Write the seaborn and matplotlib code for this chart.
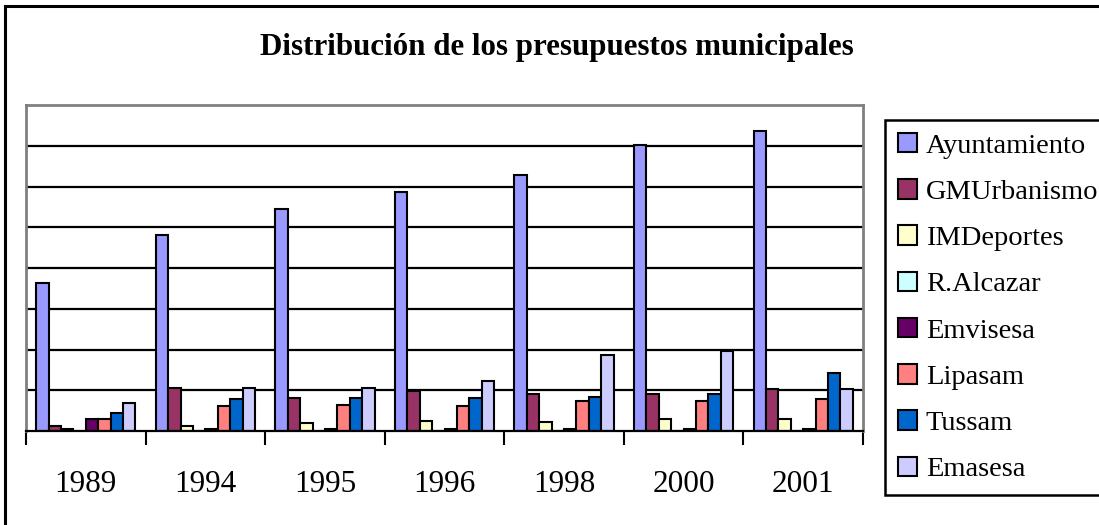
import matplotlib
matplotlib.use("Agg")
import matplotlib.pyplot as plt
import seaborn as sns
import pandas as pd
from matplotlib.patches import Rectangle, Patch

years = ["1989", "1994", "1995", "1996", "1998", "2000", "2001"]
series = ["Ayuntamiento", "GMUrbanismo", "IMDeportes", "R.Alcazar",
          "Emvisesa", "Lipasam", "Tussam", "Emasesa"]
ayuntamiento = [3.62, 4.80, 5.44, 5.87, 6.27, 7.02, 7.36]
gmurbanismo = [0.12, 1.06, 0.82, 0.98, 0.92, 0.92, 1.03]
imdeportes = [0.04, 0.13, 0.19, 0.25, 0.23, 0.29, 0.29]
ralcazar = [0.0, 0.0, 0.0, 0.0, 0.0, 0.0, 0.0]
emvisesa = [0.29, 0.04, 0.04, 0.04, 0.04, 0.04, 0.04]
lipasam = [0.29, 0.62, 0.63, 0.62, 0.74, 0.74, 0.79]
tussam = [0.43, 0.78, 0.82, 0.82, 0.83, 0.92, 1.42]
emasesa = [0.68, 1.06, 1.06, 1.23, 1.86, 1.96, 1.03]
colors = ["#9999FF", "#993366", "#FFFFCC", "#CCFFFF",
          "#660066", "#FF8080", "#0066CC", "#CCCCFF"]

values = [ayuntamiento, gmurbanismo, imdeportes, ralcazar,
          emvisesa, lipasam, tussam, emasesa]
rows = []
for s, vals in zip(series, values):
    for y, v in zip(years, vals):
        rows.append({"year": y, "serie": s, "value": v})
df = pd.DataFrame(rows)

sns.set_style("white")
plt.rcParams["font.family"] = ["Liberation Serif", "DejaVu Serif"]
plt.rcParams["text.color"] = "black"
plt.rcParams["xtick.color"] = "black"
plt.rcParams["xtick.labelcolor"] = "black"

W, H = 1099, 525
fig = plt.figure(figsize=(W / 100, H / 100), dpi=100)
ax = fig.add_axes([26 / W, 94 / H, 837 / W, 326 / H])

sns.barplot(data=df, x="year", y="value", hue="serie", order=years,
            hue_order=series, palette=colors, width=0.83, gap=0,
            edgecolor="black", linewidth=1.5, errorbar=None, ax=ax,
            legend=False, saturation=1)

ax.set_ylim(0, 8)
ax.set_xlim(-0.5, len(years) - 0.5)
ax.set_yticks(range(1, 8))
ax.yaxis.grid(True, color="black", linewidth=1.6)
ax.set_axisbelow(True)
ax.tick_params(axis="y", left=False, labelleft=False)
ax.set_xlabel("")
ax.set_ylabel("")

# category boundary ticks
ax.set_xticks([i - 0.5 for i in range(len(years) + 1)], minor=False)
ax.set_xticklabels([""] * (len(years) + 1))
ax.set_xticks(list(range(len(years))), minor=True)
ax.set_xticklabels(years, minor=True, fontsize=22.5, color="black")
ax.tick_params(axis="x", which="major", direction="out", length=10,
               width=1.5, color="black", bottom=True)
ax.tick_params(axis="x", which="minor", length=0, pad=28)

for side in ["left", "top", "right"]:
    ax.spines[side].set_color("#808080")
    ax.spines[side].set_linewidth(2)
ax.spines["bottom"].set_color("black")
ax.spines["bottom"].set_linewidth(1.6)

fig.text(557 / W, 1 - 48 / H, "Distribución de los presupuestos municipales",
         ha="center", va="center", fontsize=22.3, fontweight="bold",
         color="black")

handles = [Patch(facecolor=c, edgecolor="black", linewidth=1.5) for c in colors]
leg = fig.legend(handles, series, loc="upper left",
                 bbox_to_anchor=(885 / W, 1 - 120 / H),
                 fontsize=20.5, frameon=True, fancybox=False,
                 handlelength=0.68, handleheight=0.68, handletextpad=0.3,
                 borderpad=0.45, labelspacing=0.72, borderaxespad=0)
for t in leg.get_texts():
    t.set_color("black")
leg.get_frame().set_edgecolor("black")
leg.get_frame().set_linewidth(1.8)
leg.get_frame().set_alpha(1)

fig.patches.append(Rectangle((5 / W, -0.1), 1.2, 1 - 6 / H + 0.1,
                             transform=fig.transFigure, fill=False,
                             edgecolor="black", linewidth=2.2))

fig.savefig("out.png", dpi=100)
